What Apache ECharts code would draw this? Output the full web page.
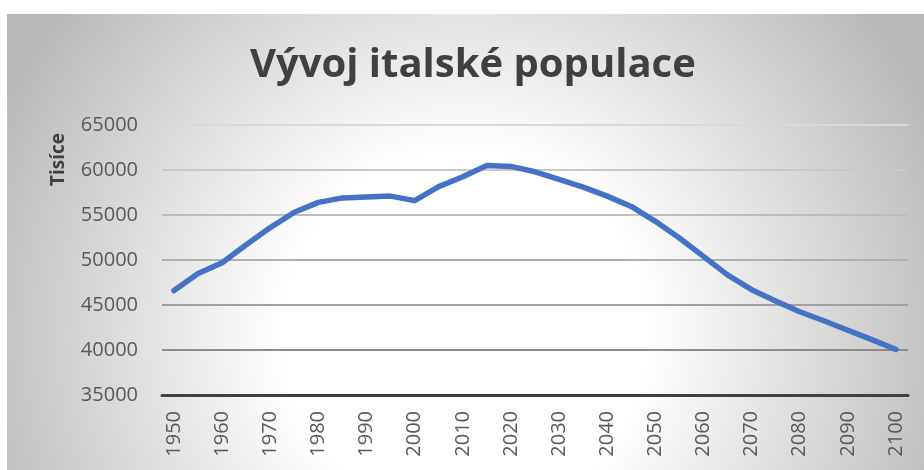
<!DOCTYPE html>
<html>
<head>
<meta charset="utf-8">
<script src="https://cdn.jsdelivr.net/npm/echarts@6/dist/echarts.min.js"></script>
<style>
  html, body { margin: 0; padding: 0; background: #fff; }
  #chart { position: absolute; left: 7px; top: 14px; width: 917px; height: 456px; }
</style>
</head>
<body>
<div id="chart"></div>
<script>
var years = ['1950', '1955', '1960', '1965', '1970', '1975', '1980', '1985', '1990', '1995',
  '2000', '2005', '2010', '2015', '2020', '2025', '2030', '2035', '2040', '2045',
  '2050', '2055', '2060', '2065', '2070', '2075', '2080', '2085', '2090', '2095', '2100'];

// populace v tisících
var population = [46600, 48500, 49700, 51700, 53600, 55300, 56400, 56900, 57000, 57100,
  56600, 58150, 59250, 60500, 60400, 59800, 58950, 58100, 57100, 55950,
  54300, 52450, 50400, 48350, 46700, 45450, 44250, 43250, 42200, 41150, 40050];

// barvy vodorovných čar odspodu (35000 ... 65000)
var gridColors = ['#404040', '#8c8c8c', '#a0a0a0', '#b0b0b0', '#bdbdbd', '#c9c9c9', '#d9d9d9'];

var chart = echarts.init(document.getElementById('chart'));

chart.setOption({
    backgroundColor: new echarts.graphic.RadialGradient(458, 320, 520, [
        { offset: 0, color: '#ffffff' },
        { offset: 0.35, color: '#ffffff' },
        { offset: 1, color: '#b8b8b8' }
    ], true),
    title: {
        text: 'Vývoj italské populace',
        left: 238,
        top: 27,
        textStyle: {
            fontFamily: 'Open Sans',
            fontWeight: 'bold',
            fontSize: 40,
            color: '#404040'
        }
    },
    graphic: [{
        type: 'text',
        left: 42,
        top: 119,
        rotation: Math.PI / 2,
        style: {
            text: 'Tisíce',
            fontFamily: 'Open Sans',
            fontWeight: 'bold',
            fontSize: 19,
            fill: '#404040'
        }
    }],
    grid: {
        left: 155,
        right: 16,
        top: 111,
        bottom: 75
    },
    xAxis: {
        type: 'category',
        boundaryGap: true,
        data: years,
        axisLine: {
            show: true,
            lineStyle: { color: '#404040', width: 3 }
        },
        axisTick: { show: false },
        axisLabel: {
            interval: 1,
            rotate: 90,
            margin: 16,
            fontFamily: 'Open Sans',
            fontSize: 20,
            color: '#595959'
        }
    },
    yAxis: {
        type: 'value',
        min: 35000,
        max: 65000,
        interval: 5000,
        axisLine: { show: false },
        axisTick: { show: false },
        axisLabel: {
            margin: 24,
            fontFamily: 'Open Sans',
            fontSize: 20,
            color: '#595959',
            formatter: function (v) {
                return String(v);
            }
        },
        splitLine: {
            lineStyle: { color: gridColors, width: 2 }
        }
    },
    series: [{
        type: 'line',
        data: population,
        showSymbol: false,
        symbol: 'none',
        smooth: false,
        lineStyle: {
            color: '#4472C4',
            width: 5.5,
            cap: 'round',
            join: 'round'
        }
    }]
});
</script>
</body>
</html>
